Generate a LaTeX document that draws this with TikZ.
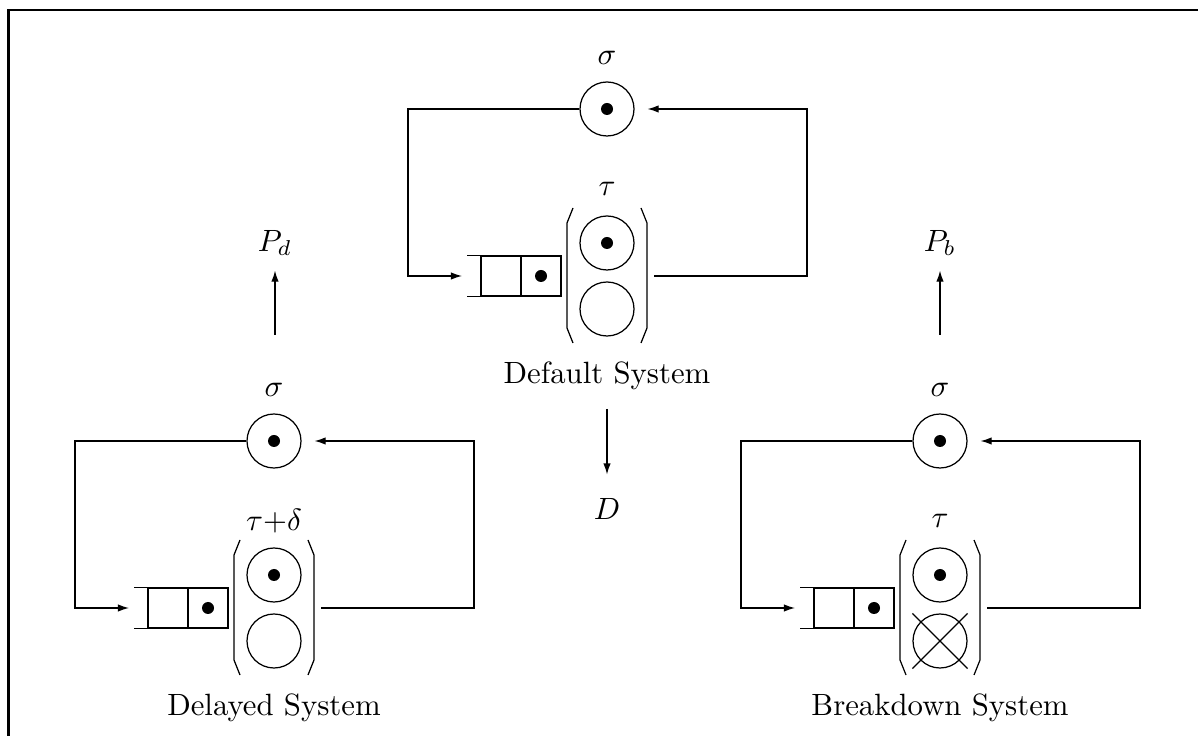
\documentclass[tikz,border=0pt]{standalone}
\usetikzlibrary{arrows.meta,shapes.misc}
\tikzset{
  every path/.style={line width=0.4pt},
  place/.style={circle,draw,minimum size=17.55pt,inner sep=0pt,line width=0.4pt},
  token/.style={circle,fill,minimum size=3.9pt,inner sep=0pt},
  cell/.style={draw,minimum width=13pt,minimum height=13pt,inner sep=0pt,line width=0.4pt},
  srvbox/.style={minimum width=26pt,minimum height=43.9pt,inner sep=0pt},
  lbl/.style={inner sep=0pt},
  crossmark/.style={cross out,draw,minimum size=17.55pt,inner sep=0pt,line width=0.4pt},
  flow/.style={-{Latex[length=3.6pt,width=2.4pt]},line width=0.4pt},
  frameline/.style={line width=0.7pt},
}
\newcommand\qsystem[6]{%
\begin{scope}[shift={(#2,#3)}]
  \node[place] (#1s) at (0,0) {};
  \node[token] (#1st) at (#1s.center) {};
  \node[lbl] (#1sl) at (0,-51) {$\sigma$};
  \node[cell] (#1c1) at (-106,167) {};
  \node[cell] (#1c2) at (-66,167) {};
  \node[token] (#1qt) at (#1c2.center) {};
  \draw (#1c1.north west) -- ++(-13,0);
  \draw (#1c1.south west) -- ++(-13,0);
  \coordinate (#1qin) at (-139,167);
  \node[place] (#1u) at (0,134) {};
  \node[token] (#1ut) at (#1u.center) {};
  \node[place] (#1v) at (0,200) {};
  \ifnum#6=1 \node[crossmark] (#1x) at (#1v.center) {};\fi
  \node[srvbox] (#1srv) at (0,166.5) {};
  \draw (-34,99) -- (-40,114) -- (-40,219) -- (-34,234);
  \draw (34,99) -- (40,114) -- (40,219) -- (34,234);
  \node[lbl] (#1tl) at (0,80) {#4};
  \node (#1title) at (0,267) {#5};
  \coordinate (#1L) at (-199,0);
  \coordinate (#1out) at (47,167);
  \coordinate (#1R) at (200,167);
  \draw[flow,shorten >=1.95pt] (#1s.west) -- (#1L) |- (#1qin);
  \draw[flow,shorten >=4.2pt] (#1out) -- (#1R) |- (#1s.east);
\end{scope}}
\begin{document}
\begin{tikzpicture}[x=0.325pt,y=-0.325pt]
  \useasboundingbox (0,0) rectangle (1198,736);
  \draw[frameline] (8.5,760) -- (8.5,10) -- (1220,10);
  \qsystem{d}{607}{109}{$\tau$}{Default System}{0}
  \qsystem{l}{274}{441}{$\tau{+}\delta$}{Delayed System}{0}
  \qsystem{b}{940}{441}{$\tau$}{Breakdown System}{1}
  % outputs
  \node[lbl] (D) at (607,509) {$D$};
  \coordinate (Dfrom) at (607,409);
  \draw[flow,shorten >=7.6pt] (Dfrom) -- (D);
  \node[lbl] (Pd) at (275,243) {$P_d$};
  \coordinate (Pdfrom) at (275,335);
  \draw[flow,shorten >=4.6pt] (Pdfrom) -- (Pd);
  \node[lbl] (Pb) at (940,243) {$P_b$};
  \coordinate (Pbfrom) at (940,335);
  \draw[flow,shorten >=4.6pt] (Pbfrom) -- (Pb);
\end{tikzpicture}
\end{document}
